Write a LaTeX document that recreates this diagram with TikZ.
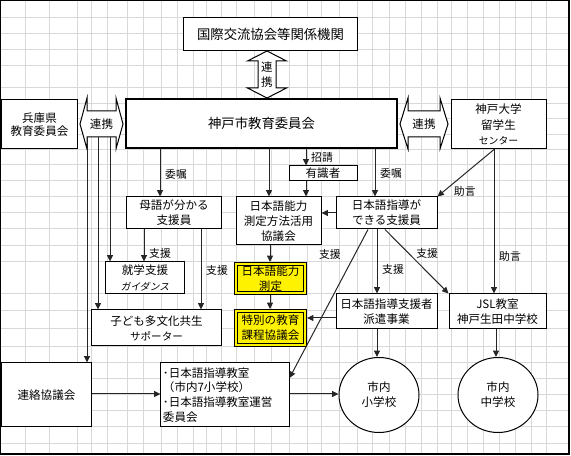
\documentclass[tikz,border=0pt]{standalone}
\usepackage{fontspec}
\setmainfont{Noto Sans CJK JP}
\newfontfamily\slantjp{Noto Sans CJK JP}[FakeSlant=0.2]
\usetikzlibrary{shapes.geometric,arrows.meta,positioning,calc}

\begin{document}
\begin{tikzpicture}[
    x=0.25mm, y=-0.25mm,
    gridline/.style={draw=black!15, line width=0.25mm},
    box/.style={shape=rectangle, draw, fill=white, line width=0.25mm, align=center, inner sep=0pt, font=\fontsize{8.2}{10.8}\selectfont},
    bigbox/.style={box, font=\fontsize{9.5}{11}\selectfont},
    hibox/.style={box, fill=yellow, double=yellow, double distance=0.4mm, outer sep=0.45mm, minimum width=17.35mm},
    school/.style={shape=ellipse, draw, fill=white, line width=0.25mm, align=center, inner sep=0pt, minimum width=20mm, minimum height=18.75mm, font=\fontsize{8.2}{10.8}\selectfont},
    link/.style={draw, fill=white, line width=0.25mm},
    linktext/.style={align=center, inner sep=0pt, font=\fontsize{8.2}{10.7}\selectfont},
    edge/.style={-{Triangle[length=1.6mm, width=1.5mm]}, line width=0.25mm, black!85},
    lbl/.style={font=\fontsize{7.7}{9}\selectfont, black}
]
    \useasboundingbox (0,0) rectangle (571,456);

    % Sheet grid
    \foreach \gx in {25,49,77,91,107,127,143,161,177,193,206,221,236,254,271,289,307,321,339,357,372,389,405,421,437,451,467,483,499,515,531,546}
        \draw[gridline] (\gx,0) -- (\gx,454);
    \foreach \gy in {18,34,50,66,88,103.4,118.8,134.2,149.6,165,181,197,213,229,246,262,294,311,329,347,363,379,395,411,427,444}
        \draw[gridline] (0,\gy) -- (569,\gy);
    \draw[line width=0.4mm] (0.5,0.5) rectangle (569,454);

    % Organisations
    \node[bigbox, minimum width=43.25mm, minimum height=8.25mm] (intl) at (270.5,34.5) {国際交流協会等関係機関};
    \node[bigbox, line width=0.5mm, minimum width=67.75mm, minimum height=12.25mm] (kobe) at (261.5,123.5) {神戸市教育委員会};
    \node[box, minimum width=18.75mm, minimum height=12.25mm, font=\fontsize{8.2}{9.5}\selectfont] (hyogo) at (39.5,124.5) {兵庫県\\教育委員会};
    \node[box, minimum width=23.75mm, minimum height=12.25mm, font=\fontsize{8.2}{11}\selectfont] (univ) at (498.5,124.5) {神戸大学\\留学生\\{\fontsize{7}{11}\selectfont センター}};

    % Support staff
    \node[box, minimum width=23.5mm, minimum height=8mm] (bogo) at (174,213) {母語が分かる\\支援員};
    \node[box, minimum width=17mm, minimum height=3.75mm] (expert) at (323,173.5) {有識者};
    \node[box, minimum width=21.25mm, minimum height=12mm] (kyogi) at (278.5,221) {日本語能力\\測定方法活用\\協議会};
    \node[box, minimum width=25.25mm, minimum height=8mm] (shien) at (386.5,213) {日本語指導が\\できる支援員};

    % Programmes
    \node[box, minimum width=19.5mm, minimum height=8mm] (shugaku) at (145,278) {就学支援\\{\slantjp\fontsize{7}{10.8}\selectfont ガイダンス}};
    \node[hibox, minimum height=7.35mm] (sokutei) at (270.5,278.5) {日本語能力\\測定};
    \node[hibox, minimum height=8.6mm] (tokubetsu) at (270.5,328) {特別の教育\\課程協議会};
    \node[box, minimum width=32.25mm, minimum height=9mm] (kodomo) at (156.5,328) {子ども多文化共生\\{\fontsize{7.5}{10.8}\selectfont サポーター}};
    \node[box, minimum width=25.25mm, minimum height=8.75mm] (haken) at (386.5,311.5) {日本語指導支援者\\派遣事業};
    \node[box, minimum width=24.25mm, minimum height=8.75mm] (jsl) at (497.5,311.5) {JSL教室\\神戸生田中学校};

    % Schools
    \node[box, minimum width=22.25mm, minimum height=16mm] (renraku) at (46.5,395) {連絡協議会};
    \node[box, align=left, text width=31mm, inner xsep=0.5mm, minimum height=16mm, font=\fontsize{8.2}{10.6}\selectfont] (kyoshitsu) at (225,395) {･日本語指導教室\\（市内7小学校）\\･日本語指導教室運営\\委員会};
    \node[school] (sho) at (379,395) {市内\\小学校};
    \node[school] (chu) at (498,395) {市内\\中学校};

    % Renkei arrows
    \draw[link] (267,51) -- (286.5,61) -- (276,61) -- (276,88) -- (286.5,88) -- (267,98) -- (247.5,88) -- (258,88) -- (258,61) -- (247.5,61) -- cycle;
    \node[linktext] (linkT) at (267,74.5) {連\\携};
    \draw[link] (80,124) -- (87,98) -- (87,111) -- (116,111) -- (116,98) -- (123,124) -- (116,149) -- (116,137) -- (87,137) -- (87,149) -- cycle;
    \node[linktext] (linkL) at (101.5,124) {連携};
    \draw[link] (400,124) -- (408,98) -- (408,111) -- (440,111) -- (440,98) -- (448,124) -- (440,149) -- (440,137) -- (408,137) -- (408,149) -- cycle;
    \node[linktext] (linkR) at (424,124) {連携};

    % Lines from the prefecture link
    \coordinate (hy1) at (110,137);
    \coordinate (hy2) at (98,137);
    \coordinate (hy3) at (87,137);
    \draw[edge] (hy1) -- (shugaku.north -| hy1);
    \draw[edge] (hy2) -- (kodomo.north -| hy2);
    \draw[edge] (hy3) -- (renraku.north -| hy3);

    % Connections
    \draw[edge] (kobe.south -| 160,0) -- node[lbl, pos=0.53, right]{委嘱} (bogo.north -| 160,0);
    \draw[edge] (kobe.south -| 269,0) -- (kyogi.north -| 269,0);
    \draw[edge] (kobe.south -| 306,0) -- node[lbl, pos=0.5, right]{招請} (expert.north -| 306,0);
    \draw[edge] (expert.south -| 306,0) -- (kyogi.north -| 306,0);
    \draw[edge] (kobe.south -| 375,0) -- node[lbl, pos=0.51, right]{委嘱} (shien.north -| 375,0);
    \draw[edge] (shien.west) -- (kyogi.east |- shien.west);
    \draw[edge] (univ.south -| 494,0) -- node[lbl, pos=0.9, right=1.4mm]{助言} (shien.north east);
    \draw[edge] (univ.south -| 494,0) -- node[lbl, pos=0.74, right]{助言} (jsl.north -| 494,0);
    \draw[edge] (shien.south -| 385,0) -- node[lbl, pos=0.38, right=0.5mm]{支援} (jsl.north west);
    \draw[edge] (shien.south -| 377,0) -- node[lbl, pos=0.62, right]{支援} (haken.north -| 377,0);
    \draw[edge] (shien.south -| 368,0) -- node[lbl, pos=0.17, left=2.2mm]{支援} (kyoshitsu.east |- 0,378);
    \draw[edge] (haken.west |- 0,318) -- (tokubetsu.east |- 0,318);
    \draw[edge] (haken.south -| 377,0) -- (sho.north -| 377,0);
    \draw[edge] (jsl.south -| 496,0) -- (chu.north -| 496,0);
    \draw[edge] (kyogi.south -| 270,0) -- (sokutei.north -| 270,0);
    \draw[edge] (sokutei.south -| 270,0) -- (tokubetsu.north -| 270,0);
    \draw[edge] (bogo.south -| 144,0) -- node[lbl, pos=0.76, right]{支援} (shugaku.north -| 144,0);
    \draw[edge] (bogo.south -| 201,0) -- node[lbl, pos=0.51, right]{支援} (kodomo.north -| 201,0);
    \draw[edge] (renraku.east |- 0,394) -- (kyoshitsu.west |- 0,394);
    \draw[edge] (kyoshitsu.east |- 0,394) -- (sho.west |- 0,394);

\end{tikzpicture}
\end{document}
